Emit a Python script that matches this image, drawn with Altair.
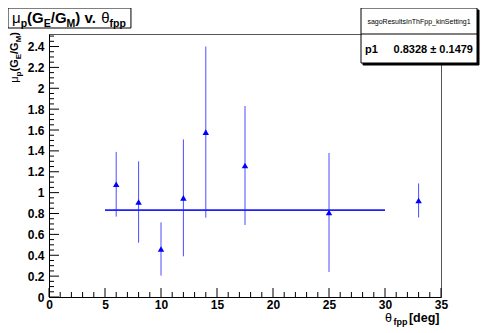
import altair as alt
import pandas as pd

# ---- data ----
theta_fpp = [6, 8, 10, 12, 14, 17.5, 25, 33]
ratio = [1.08, 0.91, 0.46, 0.95, 1.58, 1.26, 0.81, 0.925]
ratio_err = [0.31, 0.39, 0.255, 0.56, 0.82, 0.57, 0.57, 0.163]
fit_p1 = 0.8328
fit_p1_err = 0.1479
fit_from = [5]
fit_to = [30]

x_major = [0, 5, 10, 15, 20, 25, 30, 35]
x_minor = [v for v in range(36) if v % 5]
y_major = [0, 0.2, 0.4, 0.6, 0.8, 1.0, 1.2, 1.4, 1.6, 1.8, 2.0, 2.2, 2.4]
y_minor = [round(i * 0.05, 2) for i in range(51) if i % 4]

X_DOMAIN = [0, 35]
Y_DOMAIN = [0, 2.52]
W, H = 392, 263
FONT = "Liberation Sans"
BLUE = "#0000ff"

df = pd.DataFrame({"theta": theta_fpp, "r": ratio, "err": ratio_err})
df["lo"] = df["r"] - df["err"]
df["hi"] = df["r"] + df["err"]
fit_df = pd.DataFrame({"x1": fit_from, "x2": fit_to, "p1": [fit_p1]})

xs = alt.Scale(domain=X_DOMAIN, nice=False, zero=False)
ys = alt.Scale(domain=Y_DOMAIN, nice=False, zero=False)

x_axis = alt.Axis(values=x_major, ticks=False, grid=False, domainColor="black",
                  labelFont=FONT, labelFontSize=12, labelFontWeight="bold",
                  labelColor="black", labelPadding=2, title=None, format="~g",
                  labelOverlap=False, labelFlush=False)
y_axis = alt.Axis(values=y_major, ticks=False, grid=False, domainColor="black",
                  labelFont=FONT, labelFontSize=12, labelFontWeight="bold",
                  labelColor="black", labelPadding=5, title=None, format="~g",
                  labelOverlap=False, labelFlush=False)

bars = alt.Chart(df).mark_rule(color="#4d4dff", strokeWidth=1).encode(
    x=alt.X("theta:Q", scale=xs, axis=x_axis),
    y=alt.Y("lo:Q", scale=ys, axis=y_axis),
    y2="hi:Q",
)
pts = alt.Chart(df).mark_point(shape="triangle-up", filled=True, size=42,
                               color=BLUE, opacity=1).encode(
    x=alt.X("theta:Q", scale=xs, axis=x_axis),
    y=alt.Y("r:Q", scale=ys, axis=y_axis),
)
fit = alt.Chart(fit_df).mark_rule(color="#2020ff", strokeWidth=1.6).encode(
    x=alt.X("x1:Q", scale=xs, axis=x_axis), x2="x2:Q",
    y=alt.Y("p1:Q", scale=ys, axis=y_axis)
)

# inward ticks
def xticks(vals, length):
    d = pd.DataFrame({"v": vals})
    return alt.Chart(d).mark_rule(color="black", strokeWidth=1).encode(
        x=alt.X("v:Q", scale=xs, axis=x_axis), y=alt.value(H), y2=alt.value(H - length))

def yticks(vals, length):
    d = pd.DataFrame({"v": vals})
    return alt.Chart(d).mark_rule(color="black", strokeWidth=1).encode(
        y=alt.Y("v:Q", scale=ys, axis=y_axis), x=alt.value(0), x2=alt.value(length))

one = pd.DataFrame({"a": [0]})

WID = {"μ": 0.58, "θ": 0.56, "p": 0.611, "(": 0.333, ")": 0.333, "G": 0.778,
       "E": 0.667, "M": 0.833, "/": 0.278, " ": 0.278, "v": 0.556, ".": 0.278,
       "f": 0.333, "[": 0.333, "]": 0.333, "d": 0.611, "e": 0.556, "g": 0.611}

def tw(text, size):
    return sum(WID.get(c, 0.6) for c in text) * size

def rich(segs, x0, y0, main, sub, shift, angle=0, gap=0.0):
    layers = []
    pos = 0.0
    for text, kind in segs:
        size = sub if kind == "s" else main
        weight = "normal" if kind == "g" else "bold"
        dsh = shift if kind == "s" else 0
        if angle == 0:
            x, y = x0 + pos, y0 + dsh
        else:
            x, y = x0 + dsh, y0 - pos
        layers.append(alt.Chart(one).mark_text(
            text=text, font=FONT, fontSize=size, fontWeight=weight, color="black",
            align="left", baseline="alphabetic", angle=angle).encode(
            x=alt.value(x), y=alt.value(y)))
        pos += tw(text, size) + gap
    return layers, pos

def total(segs, main, sub, gap=0.0):
    return sum(tw(t, sub if k == "s" else main) + gap for t, k in segs)

def box(x1, x2, y1, y2, fill="white", stroke="black", sw=1):
    return alt.Chart(one).mark_rect(fill=fill, stroke=stroke, strokeWidth=sw).encode(
        x=alt.value(x1), x2=alt.value(x2), y=alt.value(y1), y2=alt.value(y2))

def hline(x1, x2, y):
    return alt.Chart(one).mark_rule(color="black", strokeWidth=1).encode(
        x=alt.value(x1), x2=alt.value(x2), y=alt.value(y))

def label(text, x, y, size, align="left", weight="bold"):
    return alt.Chart(one).mark_text(text=text, font=FONT, fontSize=size,
                                    fontWeight=weight, color="black", align=align,
                                    baseline="alphabetic").encode(
        x=alt.value(x), y=alt.value(y))

# main title (box + rich text)
title_segs = [("μ", "g"), ("p", "s"), ("(G", "b"), ("E", "s"), ("/G", "b"),
              ("M", "s"), (") v. ", "b"), ("θ", "g"), ("fpp", "s")]
title_layers, tlen = rich(title_segs, -37, -11, 15, 10.5, 4)
title_box = box(-41, -41 + tlen + 9, -26, -6, sw=1)

# y axis title (rotated)
ytitle_segs = [("μ", "g"), ("p", "s"), ("(G", "b"), ("E", "s"), ("/G", "b"),
               ("M", "s"), (")", "b")]
ylen = total(ytitle_segs, 11, 8)
ytitle_layers, _ = rich(ytitle_segs, -31, -2 + ylen, 11, 8, 3, angle=270)

# x axis title
xtitle_segs = [("θ", "g"), ("fpp", "s"), ("[deg]", "b")]
xlen = total(xtitle_segs, 12.5, 9, gap=1.5)
xtitle_layers, _ = rich(xtitle_segs, W - xlen, 288, 12.5, 9, 3, gap=1.5)

# stats box
stats = [
    box(314, 430, -24, 31, fill="black", stroke="black"),
    box(312, 428, -26, 29),
    hline(312, 428, 0),
    label("sagoResultsInThFpp_kinSetting1", 370, -10, 7, align="center", weight="normal"),
    label("p1", 316, 19, 11),
    label(f"{fit_p1:.4f} ± {fit_p1_err:.4f}", 424, 19, 11, align="right"),
]

chart = alt.layer(
    bars, fit, pts,
    xticks(x_minor, 5), xticks(x_major, 9),
    yticks(y_minor, 5), yticks(y_major, 10),
    title_box, *title_layers, *ytitle_layers, *xtitle_layers, *stats,
).properties(
    width=W, height=H,
    autosize=alt.AutoSizeParams(type="none"),
    padding={"left": 41, "top": 26, "right": 42, "bottom": 34},
    background="white",
).configure_view(stroke="#555555", strokeWidth=1
).configure_axis(labelOverlap=False)

chart.save("out.html", embed_options={"renderer": "svg", "actions": False})
